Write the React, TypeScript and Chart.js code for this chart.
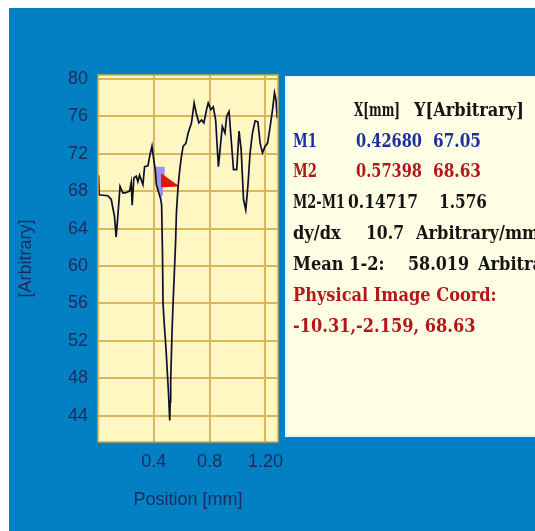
import React, { useEffect, useRef } from "react";
import { Chart, registerables } from "chart.js";

Chart.register(...registerables);

// Profile data
const profileX = [
  0.004, 0.008, 0.07, 0.095, 0.118, 0.13, 0.142, 0.158, 0.178, 0.195, 0.226, 0.238, 0.245, 0.257,
  0.274, 0.286, 0.298, 0.322, 0.334, 0.358, 0.37, 0.387, 0.4, 0.41, 0.418, 0.43, 0.45, 0.456,
  0.462, 0.466, 0.474, 0.483, 0.49, 0.497, 0.505, 0.514, 0.518, 0.521, 0.531, 0.538, 0.55, 0.556,
  0.562, 0.574, 0.586, 0.598, 0.61, 0.63, 0.646, 0.67, 0.689, 0.706, 0.723, 0.742, 0.759, 0.778,
  0.79, 0.809, 0.826, 0.843, 0.863, 0.877, 0.891, 0.91, 0.922, 0.939, 0.953, 0.971, 0.994, 1.011,
  1.026, 1.043, 1.059, 1.074, 1.09, 1.107, 1.126, 1.146, 1.162, 1.179, 1.198, 1.215, 1.234, 1.251,
  1.265, 1.275, 1.285,
];
const profileY = [
  69.7, 67.6, 67.5, 67.1, 65.3, 63.1, 65.3, 68.5, 67.8, 67.8, 68.0, 68.9, 66.5, 69.4,
  69.6, 69.0, 69.7, 68.7, 70.6, 70.7, 71.7, 72.8, 71.3, 70.3, 68.7, 68.1, 67.1, 66.5,
  61.5, 56.0, 54.0, 52.1, 50.5, 48.6, 46.5, 43.5, 45.5, 47.8, 53.2, 56.0, 60.3, 62.5,
  65.7, 68.5, 70.3, 71.7, 72.8, 73.1, 74.2, 75.3, 77.4, 76.2, 75.3, 75.6, 75.3, 76.7,
  77.4, 76.7, 77.0, 75.6, 70.6, 72.8, 74.9, 74.2, 76.0, 76.5, 73.8, 70.3, 70.3, 74.4,
  72.4, 67.1, 66.0, 68.5, 72.1, 74.2, 75.5, 75.4, 73.1, 72.1, 72.8, 73.1, 74.9, 76.7,
  78.5, 77.8, 75.8,
];

// Marker shapes (M1 lavender, M2 red)
const m1ShapeX = [0.408, 0.478, 0.478, 0.468, 0.465, 0.45, 0.42, 0.408];
const m1ShapeY = [70.6, 70.6, 69.3, 69.2, 67.6, 67.2, 68.6, 69.8];
const m2ShapeX = [0.452, 0.585, 0.452];
const m2ShapeY = [69.9, 68.5, 68.4];

const yTickValues = [44, 48, 52, 56, 60, 64, 68, 72, 76, 80];
const xTickValues = [0.4, 0.8, 1.2];
const xTickLabels = ["0.4", "0.8", "1.20"];
const xMin = 0;
const xMax = 1.29;
const yMin = 41.2;
const yMax = 80.4;

const xTitle = "Position [mm]";
const yTitle = "[Arbitrary]";

// Info panel rows: [text, x offset from panel text start, max width, colour]
const BLUE = "#1c2ea0";
const RED = "#b4161a";
const BLACK = "#141414";
const panelRows: [string, number, number, string][][] = [
  [["X[mm]", 61, 46, BLACK], ["Y[Arbitrary]", 121, 130, BLACK]],
  [["M1", 0, 24, BLUE], ["0.42680", 63, 66, BLUE], ["67.05", 140, 48, BLUE]],
  [["M2", 0, 24, RED], ["0.57398", 63, 66, RED], ["68.63", 140, 48, RED]],
  [["M2-M1", 0, 52, BLACK], ["0.14717", 55, 70, BLACK], ["1.576", 146, 48, BLACK]],
  [["dy/dx", 0, 51, BLACK], ["10.7", 73, 38, BLACK], ["Arbitrary/mm", 123, 125, BLACK]],
  [["Mean 1-2:", 0, 98, BLACK], ["58.019", 115, 61, BLACK], ["Arbitrary", 185, 95, BLACK]],
  [["Physical Image Coord:", 0, 211, RED]],
  [["-10.31,-2.159, 68.63", 0, 205, RED]],
];

const decorPlugin = {
  id: "decor",
  beforeDraw(chart: any) {
    const { ctx, chartArea: a, width, height } = chart;
    ctx.save();
    ctx.fillStyle = "#0380c4";
    ctx.fillRect(0, 0, width, height);
    ctx.fillStyle = "#fff7c2";
    ctx.fillRect(a.left, a.top, a.right - a.left, a.bottom - a.top);
    ctx.restore();
  },
  beforeDatasetsDraw(chart: any) {
    const { ctx } = chart;
    const xs = chart.scales.x;
    const ys = chart.scales.y;
    const poly = (px: number[], py: number[], color: string) => {
      ctx.beginPath();
      px.forEach((v, i) => {
        const X = xs.getPixelForValue(v);
        const Y = ys.getPixelForValue(py[i]);
        if (i === 0) ctx.moveTo(X, Y);
        else ctx.lineTo(X, Y);
      });
      ctx.closePath();
      ctx.fillStyle = color;
      ctx.fill();
    };
    ctx.save();
    poly(m1ShapeX, m1ShapeY, "#9a94ec");
    poly(m2ShapeX, m2ShapeY, "#e4120e");
    ctx.restore();
  },
  afterDraw(chart: any) {
    const { ctx, chartArea: a, width } = chart;
    ctx.save();
    // plot border
    ctx.strokeStyle = "#c9a94e";
    ctx.lineWidth = 1.5;
    ctx.strokeRect(a.left, a.top, a.right - a.left, a.bottom - a.top);
    // info panel
    const pl = a.right + 7;
    const pt = a.top + 1;
    const pb = a.bottom - 5;
    ctx.fillStyle = "#e6f4fb";
    ctx.fillRect(pl, pt, width - pl, pb - pt);
    ctx.fillStyle = "#fefee4";
    ctx.fillRect(pl + 2, pt + 1, width - pl - 2, pb - pt - 3);
    const tx = pl + 8;
    const rowY0 = pt + 35;
    const rowStep = 30.9;
    ctx.font = 'bold 18px "DejaVu Serif Condensed", "DejaVu Serif", serif';
    ctx.textBaseline = "middle";
    ctx.textAlign = "left";
    panelRows.forEach((row, r) => {
      row.forEach(([text, dx, mw, color]) => {
        ctx.fillStyle = color;
        ctx.fillText(text, tx + dx, rowY0 + r * rowStep, mw);
      });
    });
    ctx.restore();
  },
};

export default function App() {
  const ref = useRef<HTMLCanvasElement | null>(null);
  useEffect(() => {
    document.body.style.overflow = "hidden";
    if (!ref.current) return;
    const data = profileX.map((x, i) => ({ x, y: profileY[i] }));
    const tickFont = { family: '"Liberation Sans", Arial, sans-serif', size: 18 };
    const chart = new Chart(ref.current, {
      type: "line",
      data: {
        datasets: [
          {
            data,
            borderColor: "#0e0e2e",
            borderWidth: 1.7,
            pointRadius: 0,
            tension: 0,
            fill: false,
          },
        ],
      },
      options: {
        animation: false,
        responsive: false,
        devicePixelRatio: 1,
        events: [],
        layout: { padding: { left: 0, top: 67, right: 258, bottom: 0 } },
        plugins: { legend: { display: false }, tooltip: { enabled: false } },
        scales: {
          x: {
            type: "linear",
            min: xMin,
            max: xMax,
            afterBuildTicks: (s: any) => {
              s.ticks = xTickValues.map((v) => ({ value: v }));
            },
            afterFit: (s: any) => {
              s.height = 89;
            },
            ticks: {
              callback: (v: any) => {
                const i = xTickValues.indexOf(Number(v));
                return i >= 0 ? xTickLabels[i] : "";
              },
              color: "#1c2c5c",
              font: tickFont,
              padding: 9,
              maxRotation: 0,
              autoSkip: false,
            },
            grid: { color: "#dcb65a", lineWidth: 2, drawTicks: false },
            border: { display: false },
            title: {
              display: true,
              text: xTitle,
              color: "#1c2c5c",
              font: tickFont,
              padding: { top: 0, bottom: 20 },
            },
          },
          y: {
            type: "linear",
            min: yMin,
            max: yMax,
            afterBuildTicks: (s: any) => {
              s.ticks = yTickValues.map((v) => ({ value: v }));
            },
            afterFit: (s: any) => {
              s.width = 89;
            },
            ticks: {
              color: "#1c2c5c",
              font: tickFont,
              padding: 10,
              autoSkip: false,
            },
            grid: { color: "#dcb65a", lineWidth: 2, drawTicks: false },
            border: { display: false },
            title: {
              display: true,
              text: yTitle,
              color: "#1c2c5c",
              font: tickFont,
              padding: { top: 6, bottom: 0 },
            },
          },
        },
      },
      plugins: [decorPlugin],
    } as any);
    return () => chart.destroy();
  }, []);
  return (
    <div style={{ position: "fixed", left: 9, top: 8, width: 527, height: 523, overflow: "hidden" }}>
      <canvas ref={ref} width={527} height={523} style={{ display: "block" }} />
    </div>
  );
}
